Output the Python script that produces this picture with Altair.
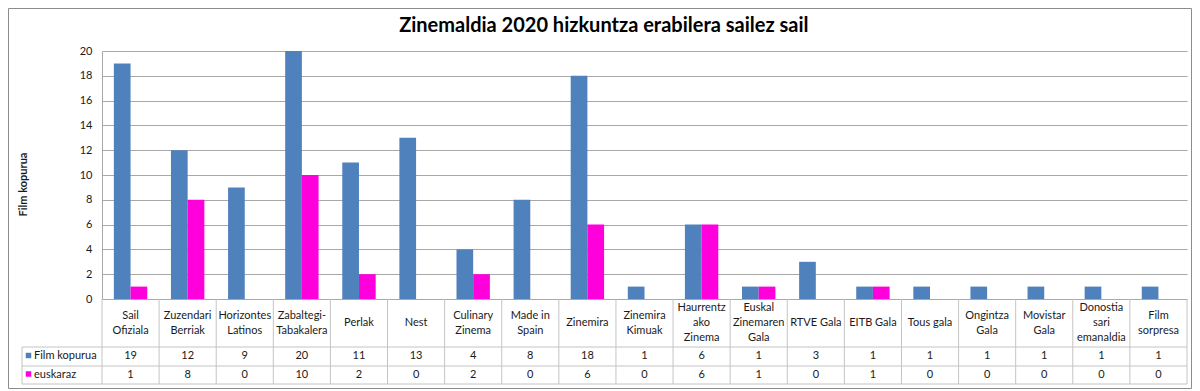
import altair as alt
import pandas as pd

# ---------------- data ----------------
categories = ["Sail Ofiziala", "Zuzendari Berriak", "Horizontes Latinos", "Zabaltegi-Tabakalera",
              "Perlak", "Nest", "Culinary Zinema", "Made in Spain", "Zinemira", "Zinemira Kimuak",
              "Haurrentzako Zinema", "Euskal Zinemaren Gala", "RTVE Gala", "EITB Gala", "Tous gala",
              "Ongintza Gala", "Movistar Gala", "Donostia sari emanaldia", "Film sorpresa"]
table_labels = ["Sail|Ofiziala", "Zuzendari|Berriak", "Horizontes|Latinos", "Zabaltegi-|Tabakalera",
                "Perlak", "Nest", "Culinary|Zinema", "Made in|Spain", "Zinemira", "Zinemira|Kimuak",
                "Haurrentz|ako|Zinema", "Euskal|Zinemaren|Gala", "RTVE Gala", "EITB Gala", "Tous gala",
                "Ongintza|Gala", "Movistar|Gala", "Donostia|sari|emanaldia", "Film|sorpresa"]
series_names = ["Film kopurua", "euskaraz"]
film_kopurua = [19, 12, 9, 20, 11, 13, 4, 8, 18, 1, 6, 1, 3, 1, 1, 1, 1, 1, 1]
euskaraz = [1, 8, 0, 10, 2, 0, 2, 0, 6, 0, 6, 1, 0, 1, 0, 0, 0, 0, 0]
series_colors = ["#4F81BD", "#FF00DD"]
title_text = "Zinemaldia 2020 hizkuntza erabilera sailez sail"
y_title = "Film kopurua"
y_ticks = list(range(0, 21, 2))

series_values = [film_kopurua, euskaraz]
long_df = pd.DataFrame(
    [{"cat": c, "series": s, "value": vals[i]}
     for s, vals in zip(series_names, series_values)
     for i, c in enumerate(categories)]
)
cat_df = pd.DataFrame({"cat": categories, "label": table_labels})
one_df = pd.DataFrame({"k": [0]})

# ---------------- layout ----------------
W, H = 1085, 248
FONT = "Lato"
TXT = "#1a1a1a"
GRID = "#A8A8A8"
LINE = "#C4C4C4"
LINE_H = 15

x_scale = alt.Scale(domain=categories, paddingInner=0, paddingOuter=0)


def xcat(**kw):
    return alt.X("cat:N", scale=x_scale, axis=None, sort=categories, **kw)


bars = alt.Chart(long_df).mark_bar().encode(
    x=xcat(),
    xOffset=alt.XOffset("series:N", sort=series_names,
                        scale=alt.Scale(domain=series_names, paddingInner=0, paddingOuter=0.71)),
    y=alt.Y("value:Q", scale=alt.Scale(domain=[0, 20], nice=False),
            axis=alt.Axis(values=y_ticks, title=y_title, ticks=False, labelPadding=10,
                          labelFont=FONT, labelFontSize=11, labelColor=TXT,
                          titleFont=FONT, titleFontSize=11, titleFontWeight="bold", titleColor=TXT,
                          titleX=-79, titleY=133, titleAlign="center", titleBaseline="middle",
                          gridColor=GRID, domainColor=GRID)),
    color=alt.Color("series:N", scale=alt.Scale(domain=series_names, range=series_colors), legend=None),
)

# category labels of the data table, vertically centred per number of lines
cat_label_layers = []
for n in (1, 2, 3):
    cat_label_layers.append(
        alt.Chart(cat_df).transform_calculate(
            lines="split(datum.label, '|')"
        ).transform_calculate(
            n="length(datum.lines)"
        ).transform_filter(
            alt.datum.n == n
        ).mark_text(font=FONT, fontSize=11, baseline="middle", lineHeight=LINE_H, color=TXT).encode(
            x=xcat(), y=alt.value(H + 24 - (n - 1) * LINE_H / 2), text="lines:N"
        )
    )

vlines = alt.Chart(cat_df).mark_rule(color=LINE).encode(
    x=xcat(bandPosition=0), y=alt.value(H), y2=alt.value(H + 85)
)
right_edge = alt.Chart(one_df).mark_rule(color=LINE).encode(
    x=alt.value(W), y=alt.value(H), y2=alt.value(H + 85)
)
left_edge = alt.Chart(one_df).mark_rule(color=LINE).encode(
    x=alt.value(-80), y=alt.value(H + 48), y2=alt.value(H + 85)
)
hlines = [
    alt.Chart(one_df).mark_rule(color=LINE).encode(
        x=alt.value(-80), x2=alt.value(W), y=alt.value(yy)
    )
    for yy in (H + 48, H + 67, H + 85)
]

row_y = [H + 57, H + 75.5]
value_rows = []
legend_keys = []
for name, col, yy in zip(series_names, series_colors, row_y):
    value_rows.append(
        alt.Chart(long_df).transform_filter(alt.datum.series == name)
        .mark_text(font=FONT, fontSize=11, baseline="middle", color=TXT)
        .encode(x=xcat(), y=alt.value(yy), text="value:Q")
    )
    kdf = pd.DataFrame({"series": [name]})
    legend_keys.append(
        alt.Chart(kdf).mark_square(size=30, color=col, opacity=1, shape="square")
        .encode(x=alt.value(-73.5), y=alt.value(yy - 0.5))
    )
    legend_keys.append(
        alt.Chart(kdf).mark_text(font=FONT, fontSize=11, align="left", baseline="middle", color=TXT)
        .encode(x=alt.value(-68), y=alt.value(yy), text="series:N")
    )

title = alt.Chart(pd.DataFrame({"t": [title_text]})).mark_text(
    font=FONT, fontSize=20, fontWeight="bold", color="#000000", baseline="alphabetic", align="center"
).encode(x=alt.value(501.8), y=alt.value(-19.3), text="t:N")

border = alt.Chart(one_df).mark_rect(fill="transparent", stroke="#8C8C8C", strokeWidth=1).encode(
    x=alt.value(-93.5), x2=alt.value(W + 4.5), y=alt.value(-42.5), y2=alt.value(H + 89.5)
)

chart = alt.layer(
    border, bars, vlines, right_edge, left_edge, *hlines, *cat_label_layers, *value_rows,
    *legend_keys, title
).properties(
    width=W, height=H,
    autosize=alt.AutoSizeParams(type="none"),
    padding={"left": 94, "top": 43, "right": 5, "bottom": 91},
    background="white",
).configure_view(strokeWidth=0)

chart.save("out.html", embed_options={"renderer": "svg", "actions": False})
